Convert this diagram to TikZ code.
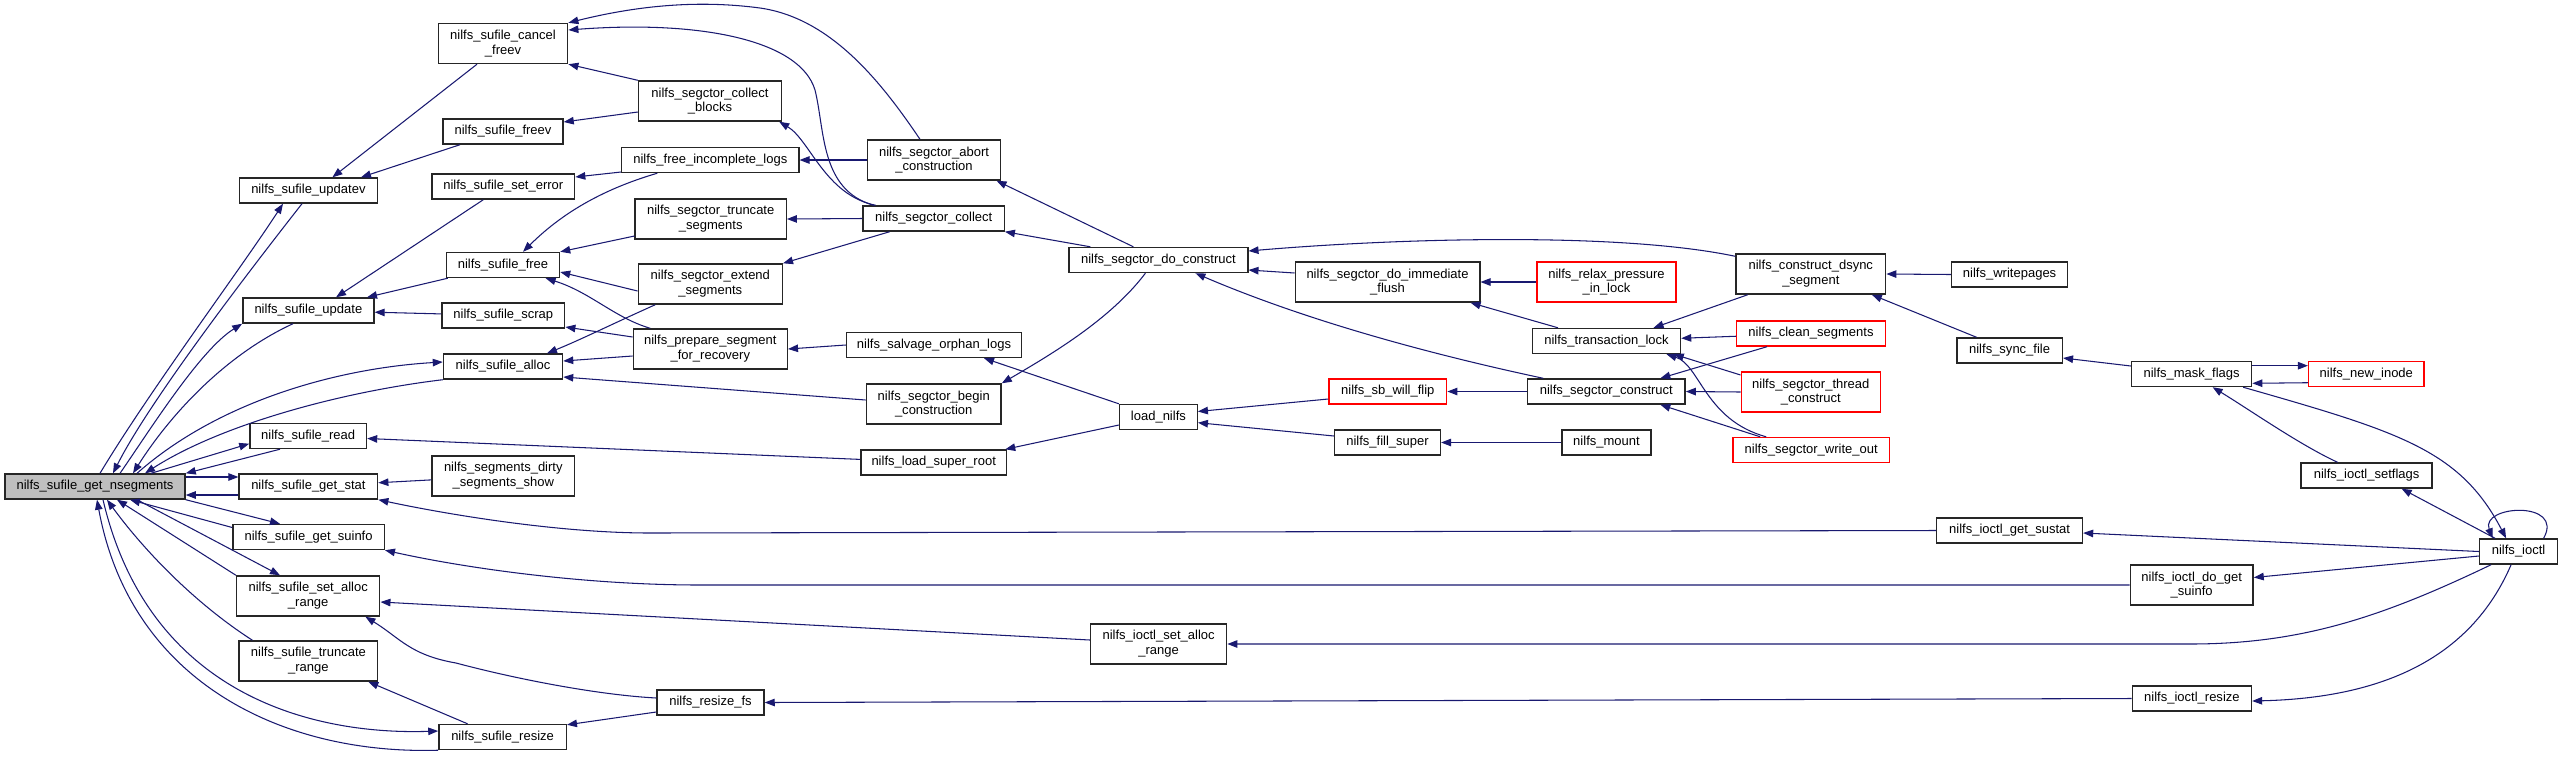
\documentclass[tikz,border=0pt]{standalone}
\usepackage{fontspec}
\usepackage{xcolor}
\usepackage{tikz}
\usetikzlibrary{arrows.meta}
\newfontfamily\cgsans{Liberation Sans}
\definecolor{cgblue}{HTML}{191970}
\definecolor{cggray}{HTML}{BFBFBF}
\definecolor{cgred}{HTML}{FF0000}
\tikzset{
  cgbox/.style={draw=black!85, fill=white, line width=0.4pt, font=\cgsans\fontsize{3.7pt}{4.2pt}\selectfont, align=center, inner sep=0pt, minimum height=0.25cm},
  cgtall/.style={cgbox, minimum height=0.40cm},
  cgroot/.style={fill=cggray},
  cgtrunc/.style={draw=cgred},
  cgedge/.style={draw=cgblue, line width=0.3pt, arrows={Triangle[length=0.1cm, width=0.075cm]-}},
}

\begin{document}
\begin{tikzpicture}[x=0.01cm, y=-0.01cm]
\useasboundingbox (0,0) rectangle (2563,757);
\node[cgbox, cgroot, minimum width=1.80cm] (nsegments) at (95,486.5) {nilfs\_sufile\_get\_nsegments};
\node[cgbox, minimum width=1.376cm] (updatev) at (308.4,190.5) {nilfs\_sufile\_updatev};
\node[cgbox, minimum width=1.31cm] (update) at (308.4,310.5) {nilfs\_sufile\_update};
\node[cgbox, minimum width=1.165cm] (read) at (308.2,436) {nilfs\_sufile\_read};
\node[cgbox, minimum width=1.385cm] (getstat) at (308.4,486.5) {nilfs\_sufile\_get\_stat};
\node[cgbox, minimum width=1.513cm] (getsuinfo) at (308.6,537) {nilfs\_sufile\_get\_suinfo};
\node[cgtall, minimum width=1.43cm] (setalloc) at (308.2,596) {nilfs\_sufile\_set\_alloc\\\_range};
\node[cgtall, minimum width=1.384cm] (truncrange) at (308.4,661) {nilfs\_sufile\_truncate\\\_range};
\node[cgtall, minimum width=1.293cm] (cancelfreev) at (503,43.5) {nilfs\_sufile\_cancel\\\_freev};
\node[cgbox, minimum width=1.20cm] (freev) at (503,131.5) {nilfs\_sufile\_freev};
\node[cgbox, minimum width=1.426cm] (seterror) at (503.3,186.5) {nilfs\_sufile\_set\_error};
\node[cgbox, minimum width=1.13cm] (sufree) at (503,265) {nilfs\_sufile\_free};
\node[cgbox, minimum width=1.227cm] (scrap) at (503.3,315.5) {nilfs\_sufile\_scrap};
\node[cgbox, minimum width=1.19cm] (alloc) at (503,366.5) {nilfs\_sufile\_alloc};
\node[cgtall, minimum width=1.426cm] (dirtyshow) at (503.3,476) {nilfs\_segments\_dirty\\\_segments\_show};
\node[cgbox, minimum width=1.273cm] (sufresize) at (502.6,737) {nilfs\_sufile\_resize};
\node[cgtall, minimum width=1.43cm] (collectblocks) at (710,101) {nilfs\_segctor\_collect\\\_blocks};
\node[cgbox, minimum width=1.77cm] (freeincomplete) at (710.3,160) {nilfs\_free\_incomplete\_logs};
\node[cgtall, minimum width=1.51cm] (truncsegs) at (710.7,219) {nilfs\_segctor\_truncate\\\_segments};
\node[cgtall, minimum width=1.44cm] (extendsegs) at (710.3,284) {nilfs\_segctor\_extend\\\_segments};
\node[cgtall, minimum width=1.54cm] (prepseg) at (710.3,349) {nilfs\_prepare\_segment\\\_for\_recovery};
\node[cgbox, minimum width=1.07cm] (resizefs) at (710.5,702.5) {nilfs\_resize\_fs};
\node[cgtall, minimum width=1.326cm] (abortcons) at (934,160) {nilfs\_segctor\_abort\\\_construction};
\node[cgbox, minimum width=1.41cm] (collect) at (933.7,218.5) {nilfs\_segctor\_collect};
\node[cgbox, minimum width=1.75cm] (salvage) at (934,345) {nilfs\_salvage\_orphan\_logs};
\node[cgtall, minimum width=1.347cm] (begincons) at (933.7,404) {nilfs\_segctor\_begin\\\_construction};
\node[cgbox, minimum width=1.455cm] (loadsuper) at (933.7,462.5) {nilfs\_load\_super\_root};
\node[cgbox, minimum width=1.787cm] (doconstruct) at (1158.4,260) {nilfs\_segctor\_do\_construct};
\node[cgbox, minimum width=0.776cm] (loadnilfs) at (1158.4,417) {load\_nilfs};
\node[cgtall, minimum width=1.36cm] (iocsetalloc) at (1158.6,644) {nilfs\_ioctl\_set\_alloc\\\_range};
\node[cgtall, minimum width=1.845cm] (immflush) at (1387.5,282) {nilfs\_segctor\_do\_immediate\\\_flush};
\node[cgbox, cgtrunc, minimum width=1.177cm] (sbwillflip) at (1387.8,391.5) {nilfs\_sb\_will\_flip};
\node[cgbox, minimum width=1.057cm] (fillsuper) at (1387.5,442.5) {nilfs\_fill\_super};
\node[cgtall, cgtrunc, minimum width=1.39cm] (relax) at (1606.5,282) {nilfs\_relax\_pressure\\\_in\_lock};
\node[cgbox, minimum width=1.48cm] (translock) at (1606.5,341) {nilfs\_transaction\_lock};
\node[cgbox, minimum width=1.575cm] (segconstruct) at (1606.3,391.5) {nilfs\_segctor\_construct};
\node[cgbox, minimum width=0.89cm] (mount) at (1606.5,442.5) {nilfs\_mount};
\node[cgtall, minimum width=1.496cm] (dsync) at (1810.8,274) {nilfs\_construct\_dsync\\\_segment};
\node[cgbox, cgtrunc, minimum width=1.484cm] (cleansegs) at (1811,333.5) {nilfs\_clean\_segments};
\node[cgtall, cgtrunc, minimum width=1.39cm] (threadcons) at (1810.8,392) {nilfs\_segctor\_thread\\\_construct};
\node[cgbox, cgtrunc, minimum width=1.563cm] (writeout) at (1811.2,450) {nilfs\_segctor\_write\_out};
\node[cgbox, minimum width=1.16cm] (writepages) at (2009.6,274.5) {nilfs\_writepages};
\node[cgbox, minimum width=1.054cm] (syncfile) at (2009.6,350.5) {nilfs\_sync\_file};
\node[cgbox, minimum width=1.456cm] (getsustat) at (2009.6,530.5) {nilfs\_ioctl\_get\_sustat};
\node[cgbox, minimum width=1.20cm] (maskflags) at (2191.6,374) {nilfs\_mask\_flags};
\node[cgtall, minimum width=1.226cm] (dogetsuinfo) at (2191.7,585) {nilfs\_ioctl\_do\_get\\\_suinfo};
\node[cgbox, minimum width=1.19cm] (iocresize) at (2191.9,698.5) {nilfs\_ioctl\_resize};
\node[cgbox, cgtrunc, minimum width=1.153cm] (newinode) at (2366.3,374) {nilfs\_new\_inode};
\node[cgbox, minimum width=1.31cm] (setflags) at (2366.6,475.5) {nilfs\_ioctl\_setflags};
\node[cgbox, minimum width=0.78cm] (ioctl) at (2518.6,551.5) {nilfs\_ioctl};
\draw[cgedge] ([xshift=0.24cm]updatev.north) -- ([xshift=-0.26cm]cancelfreev.south);
\draw[cgedge] ([xshift=0.526cm]updatev.north) -- ([xshift=-0.43cm]freev.south);
\draw[cgedge] ([xshift=0.276cm]update.north) -- ([xshift=-0.2cm]seterror.south);
\draw[cgedge] ([xshift=0.586cm]update.north) -- ([xshift=0.02cm]sufree.south west);
\draw[cgedge] (update) -- (scrap);
\draw[cgedge] (getstat) -- (dirtyshow);
\draw[cgedge] (read) -- (loadsuper);
\draw[cgedge] (getstat.south east) .. controls (450,515) and (560,533) .. (650,533) -- (getsustat.west);
\draw[cgedge] (getsuinfo.south east) .. controls (460,567) and (580,585) .. (700,585) -- (dogetsuinfo.west);
\draw[cgedge] ([yshift=-0.06cm]setalloc.east) -- ([yshift=0.04cm]iocsetalloc.west);
\draw[cgedge] ([xshift=-0.15cm]setalloc.south east) .. controls (400,638) and (410,655) .. (456,663) .. controls (520,680) and (600,695) .. ([yshift=0.045cm]resizefs.west);
\draw[cgedge] ([xshift=-0.1cm]truncrange.south east) -- ([xshift=-0.35cm]sufresize.north);
\draw[cgedge] ([yshift=-0.01cm]sufresize.north east) -- ([yshift=-0.095cm]resizefs.west);
\draw[cgedge] (resizefs.east) -- (iocresize.west);
\draw[cgedge] ([xshift=-0.254cm]updatev.south) .. controls (240,270) and (150,390) .. ([xshift=0.05cm]nsegments.north);
\draw[cgedge] ([xshift=0.18cm]nsegments.north) .. controls (150,400) and (250,270) .. ([xshift=-0.064cm]updatev.south);
\draw[cgedge] (update.south west) .. controls (200,350) and (150,430) .. ([xshift=0.25cm]nsegments.north);
\draw[cgedge] ([xshift=0.38cm]nsegments.north) .. controls (170,415) and (225,355) .. ([xshift=-0.154cm]update.south);
\draw[cgedge] ([yshift=0.045cm]alloc.west) .. controls (340,368) and (220,400) .. ([xshift=0.42cm]nsegments.north);
\draw[cgedge] ([xshift=0.5cm]nsegments.north) .. controls (220,425) and (340,392) .. (alloc.south west);
\draw[cgedge] ([yshift=-0.077cm]read.west) -- ([xshift=0.56cm]nsegments.north);
\draw[cgedge] (nsegments.north east) -- ([xshift=-0.282cm]read.south);
\draw[cgedge] ([yshift=0.095cm]getstat.west) -- ([yshift=0.095cm]nsegments.east);
\draw[cgedge] ([yshift=-0.085cm]nsegments.east) -- ([yshift=-0.085cm]getstat.west);
\draw[cgedge] ([xshift=-0.286cm]getsuinfo.north) -- (nsegments.south east);
\draw[cgedge] ([xshift=0.35cm]nsegments.south) -- ([yshift=0.095cm]getsuinfo.west);
\draw[cgedge] ([xshift=-0.282cm]setalloc.north) -- ([xshift=0.42cm]nsegments.south);
\draw[cgedge] ([xshift=0.22cm]nsegments.south) -- (setalloc.north west);
\draw[cgedge] ([xshift=0.12cm]nsegments.south) .. controls (140,545) and (190,600) .. ([xshift=0.14cm]truncrange.north west);
\draw[cgedge] ([yshift=0.06cm]sufresize.west) .. controls (320,735) and (150,700) .. ([xshift=0.08cm]nsegments.south);
\draw[cgedge] ([xshift=0.02cm]nsegments.south) .. controls (130,680) and (280,755) .. (sufresize.south west);
\draw[cgedge] (cancelfreev.north east) .. controls (640,5) and (700,0) .. (760,8) .. controls (830,18) and (880,80) .. ([xshift=-0.14cm]abortcons.north);
\draw[cgedge] ([yshift=0.135cm]cancelfreev.east) .. controls (700,20) and (800,40) .. (815,90) .. controls (825,130) and (820,190) .. ([xshift=-0.6cm]collect.north);
\draw[cgedge] ([xshift=-0.03cm]collectblocks.south east) .. controls (810,140) and (825,195) .. ([xshift=-0.58cm]collect.north);
\draw[cgedge] (cancelfreev.south east) -- (collectblocks.north west);
\draw[cgedge] ([yshift=0.095cm]freev.east) -- ([yshift=-0.11cm]collectblocks.west);
\draw[cgedge] ([yshift=0.095cm]seterror.east) -- ([yshift=-0.12cm]freeincomplete.west);
\draw[cgedge] ([xshift=0.2cm]sufree.north) .. controls (560,215) and (600,190) .. ([xshift=-0.53cm]freeincomplete.south);
\draw[cgedge] (sufree.north east) -- ([yshift=-0.17cm]truncsegs.west);
\draw[cgedge] ([yshift=-0.07cm]sufree.east) -- ([yshift=-0.07cm]extendsegs.west);
\draw[cgedge] ([xshift=-0.146cm]sufree.south east) .. controls (590,292) and (615,318) .. ([xshift=-0.6cm]prepseg.north);
\draw[cgedge] ([yshift=-0.115cm]scrap.east) -- ([yshift=0.12cm]prepseg.west);
\draw[cgedge] ([xshift=0.44cm]alloc.north) .. controls (580,340) and (610,325) .. ([xshift=-0.55cm]extendsegs.south);
\draw[cgedge] ([yshift=0.055cm]alloc.east) -- ([yshift=-0.07cm]prepseg.west);
\draw[cgedge] ([yshift=-0.105cm]alloc.east) -- ([yshift=0.04cm]begincons.west);
\draw[cgedge] (freeincomplete.east) -- (abortcons.west);
\draw[cgedge] (truncsegs.east) -- (collect.west);
\draw[cgedge] (extendsegs.north east) -- ([xshift=-0.44cm]collect.south);
\draw[cgedge] (prepseg.east) -- (salvage.west);
\draw[cgedge] ([xshift=0.625cm]abortcons.south) -- ([xshift=-0.25cm]doconstruct.north);
\draw[cgedge] (collect.south east) -- ([xshift=-0.68cm]doconstruct.north);
\draw[cgedge] ([xshift=0.5cm]salvage.south) -- (loadnilfs.north west);
\draw[cgedge] (begincons.north east) .. controls (1050,355) and (1110,320) .. ([xshift=-0.13cm]doconstruct.south);
\draw[cgedge] ([xshift=0.715cm]loadsuper.north) -- ([yshift=-0.08cm]loadnilfs.west);
\draw[cgedge] ([yshift=0.09cm]doconstruct.east) .. controls (1400,238) and (1620,232) .. ([yshift=-0.03cm]dsync.north west);
\draw[cgedge] ([yshift=-0.1cm]doconstruct.east) -- ([yshift=0.09cm]immflush.west);
\draw[cgedge] ([xshift=0.37cm]doconstruct.south) .. controls (1300,318) and (1420,352) .. ([xshift=-0.63cm]segconstruct.north);
\draw[cgedge] ([xshift=0.83cm]immflush.south) -- ([xshift=-0.485cm]translock.north);
\draw[cgedge] (immflush.east) -- (relax.west);
\draw[cgedge] ([xshift=0.47cm]translock.north) -- ([xshift=-0.63cm]dsync.south);
\draw[cgedge] (translock) -- (cleansegs);
\draw[cgedge] ([xshift=-0.075cm]translock.south east) -- ([yshift=0.17cm]threadcons.west);
\draw[cgedge] ([xshift=0.6cm]translock.south) .. controls (1700,365) and (1705,420) .. ([xshift=-0.45cm]writeout.north);
\draw[cgedge] ([xshift=0.54cm]segconstruct.north) -- ([xshift=-0.44cm]cleansegs.south);
\draw[cgedge] (segconstruct.east) -- (threadcons.west);
\draw[cgedge] ([xshift=0.54cm]segconstruct.south) -- ([xshift=-0.51cm]writeout.north);
\draw[cgedge] (sbwillflip.east) -- (segconstruct.west);
\draw[cgedge] (fillsuper.east) -- (mount.west);
\draw[cgedge] ([yshift=0.055cm]loadnilfs.east) -- ([yshift=-0.075cm]sbwillflip.west);
\draw[cgedge] ([yshift=-0.057cm]loadnilfs.east) -- ([yshift=0.065cm]fillsuper.west);
\draw[cgedge] (dsync.east) -- (writepages.west);
\draw[cgedge] ([xshift=0.61cm]dsync.south) -- ([xshift=-0.33cm]syncfile.north);
\draw[cgedge] ([yshift=-0.075cm]syncfile.east) -- ([yshift=0.08cm]maskflags.west);
\draw[cgedge] ([yshift=0.083cm]newinode.west) -- ([yshift=0.083cm]maskflags.east);
\draw[cgedge] ([yshift=-0.093cm]maskflags.east) -- ([yshift=-0.087cm]newinode.west);
\draw[cgedge] ([xshift=0.21cm]maskflags.south) .. controls (2250,410) and (2300,445) .. ([xshift=-0.29cm]setflags.north);
\draw[cgedge] ([xshift=-0.125cm]ioctl.north) .. controls (2460,450) and (2400,432) .. ([xshift=0.515cm]maskflags.south);
\draw[cgedge] ([xshift=-0.26cm]ioctl.north) .. controls (2480,505) and (2565,500) .. ([xshift=0.25cm]ioctl.north);
\draw[cgedge] ([xshift=0.35cm]setflags.south) -- ([xshift=-0.235cm]ioctl.north);
\draw[cgedge] ([yshift=-0.025cm]getsustat.east) -- (ioctl.west);
\draw[cgedge] ([yshift=0.075cm]dogetsuinfo.east) -- ([yshift=-0.045cm]ioctl.west);
\draw[cgedge] (iocsetalloc.east) -- (2190,644) .. controls (2300,644) and (2380,618) .. ([xshift=-0.275cm]ioctl.south);
\draw[cgedge] ([yshift=-0.025cm]iocresize.east) .. controls (2380,698) and (2470,660) .. ([xshift=-0.075cm]ioctl.south);
\end{tikzpicture}
\end{document}
